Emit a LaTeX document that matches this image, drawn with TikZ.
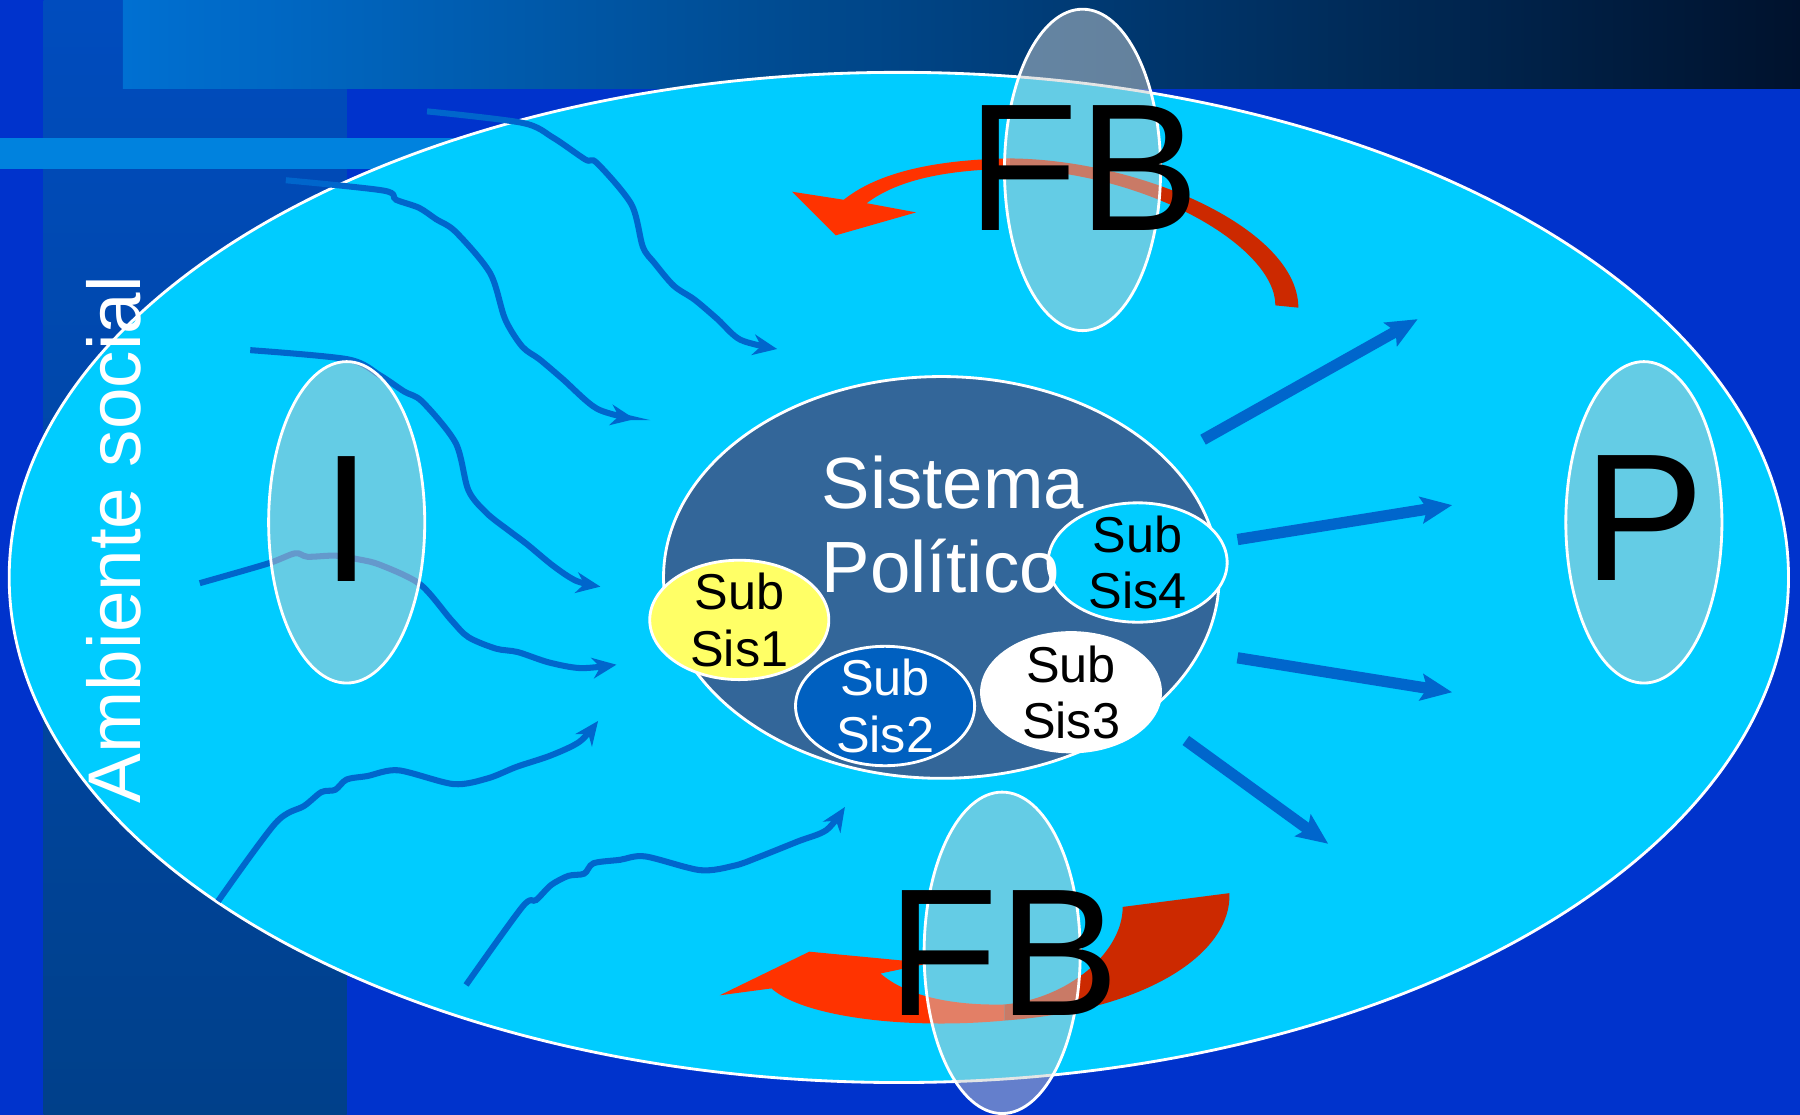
\documentclass[tikz,border=0pt]{standalone}
\usepackage{fontspec}
\setmainfont{Liberation Sans}
\usetikzlibrary{shapes.geometric,arrows.meta}
\definecolor{AzulFondo}{RGB}{0, 51, 204}
\definecolor{FranjaArriba}{RGB}{0, 76, 190}
\definecolor{FranjaAbajo}{RGB}{0, 64, 138}
\definecolor{BarraIzq}{RGB}{0, 112, 210}
\definecolor{BarraDer}{RGB}{0, 18, 45}
\definecolor{Raya}{RGB}{0, 130, 222}
\definecolor{Cian}{RGB}{0, 204, 255}
\definecolor{AzulSistema}{RGB}{51, 102, 153}
\definecolor{Amarillo}{RGB}{255, 255, 102}
\definecolor{AzulSub}{RGB}{0, 96, 192}
\definecolor{AzulFlecha}{RGB}{0, 102, 204}
\definecolor{RojoVivo}{RGB}{255, 51, 0}
\definecolor{RojoOscuro}{RGB}{204, 41, 0}
\definecolor{Velo}{RGB}{200, 204, 204}

\begin{document}
\begin{tikzpicture}[x=0.1mm, y=-0.1mm,
    elipse/.style={ellipse, draw=white, line width=0.7pt, inner sep=0pt},
    velo/.style={elipse, fill=Velo, fill opacity=0.5, minimum width=13.6mm, minimum height=28mm},
    letra/.style={font=\fontsize{45}{45}\selectfont, inner sep=0pt},
    subsis/.style={elipse, minimum width=15.6mm, minimum height=10.4mm},
    subtexto/.style={font=\fontsize{12.5}{14}\selectfont, align=center, inner sep=0pt},
    onda/.style={AzulFlecha, line width=1.5pt, -{Stealth[length=2.1mm, width=1.8mm]}},
    salida/.style={AzulFlecha, line width=2.8pt, -{Stealth[length=2.7mm, width=2.3mm, inset=0.5mm]}}]
    \useasboundingbox (0,0) rectangle (1568,971);
    %Fondo
    \fill[AzulFondo] (0,0) rectangle (1568,971);
    \shade[top color=FranjaArriba, bottom color=FranjaAbajo] (38,0) rectangle (302,971);
    \shade[left color=BarraIzq, right color=BarraDer] (107,0) rectangle (1568,77);
    \fill[Raya] (0,120) rectangle (430,147);
    %Ambiente
    \node[elipse, fill=Cian, minimum width=155mm, minimum height=88mm] (A) at (783,503) {};
    \node[text=white, rotate=90, anchor=base, font=\fontsize{18.5}{20}\selectfont, inner sep=0pt] (AS) at (122,470) {Ambiente social};
    %Entradas
    \coordinate (O1) at (372,97);   \coordinate (F1) at (677,304);
    \coordinate (O2) at (249,157);  \coordinate (F2) at (553,365);
    \coordinate (O3) at (218,305);  \coordinate (F3) at (523,511);
    \coordinate (O4) at (174,508);  \coordinate (F4) at (537,579);
    \coordinate (O5) at (190,785);  \coordinate (F5) at (521,628);
    \coordinate (O6) at (406,858);  \coordinate (F6) at (736,703);
    \draw[onda] plot[smooth, tension=0.5] coordinates {(O1) (455,107) (482,120) (510,139) (520,142) (550,178) (560,215) (570,229) (587,249) (605,261) (625,278) (645,296) (F1)};
    \draw[onda] plot[smooth, tension=0.5] coordinates {(O2) (334,166) (345,174) (365,181) (380,191) (397,202) (427,238) (440,278) (455,302) (470,313) (490,330) (520,356) (F2)};
    \draw[onda] plot[smooth, tension=0.5] coordinates {(O3) (303,313) (331,327) (352,341) (368,350) (397,386) (408,427) (424,447) (443,462) (459,474) (482,493) (502,506) (F3)};
    \draw[onda] plot[smooth, tension=0.5] coordinates {(O4) (233,491) (257,482) (268,485) (292,484) (311,487) (331,492) (366,509) (393,540) (408,555) (432,565) (451,568) (478,577) (506,582) (F4)};
    \draw[onda] plot[smooth, tension=0.5] coordinates {(O5) (240,717) (265,702) (280,690) (292,688) (302,679) (320,676) (347,671) (395,683) (425,678) (450,668) (480,658) (505,646) (F5)};
    \draw[onda] plot[smooth, tension=0.5] coordinates {(O6) (455,790) (467,784) (480,771) (495,763) (509,761) (517,752) (540,749) (562,746) (610,758) (640,754) (660,747) (695,733) (720,723) (F6)};
    %Salidas
    \coordinate (E1) at (1048,383);  \coordinate (G1) at (1235,278);
    \coordinate (E2) at (1078,470);  \coordinate (G2) at (1265,440);
    \coordinate (E3) at (1078,573);  \coordinate (G3) at (1265,603);
    \coordinate (E4) at (1033,645);  \coordinate (G4) at (1157,735);
    \draw[salida] (E1) -- (G1);
    \draw[salida] (E2) -- (G2);
    \draw[salida] (E3) -- (G3);
    \draw[salida] (E4) -- (G4);
    %Retroalimentacion
    \fill[RojoVivo] (690,167) -- (735,174) .. controls (765,150) and (815,139) .. (880,138) -- (880,147) .. controls (820,148) and (780,158) .. (755,177) -- (798,185) -- (728,205) -- cycle;
    \fill[RojoOscuro] (880,138) .. controls (995,139) and (1131,200) .. (1131,268) -- (1111,266) .. controls (1111,215) and (1000,150) .. (880,147) -- cycle;
    \fill[RojoVivo] (627,867) -- (705,829) -- (810,839) -- (767,848) .. controls (790,868) and (830,876) .. (875,875) -- (875,889) .. controls (790,897) and (700,886) .. (672,861) -- cycle;
    \fill[RojoOscuro] (875,875) .. controls (930,870) and (978,830) .. (978,790) -- (1071,778) .. controls (1073,830) and (1000,880) .. (875,889) -- cycle;
    \node[velo] (B) at (943,148) {};
    \node[velo] (C) at (873,830) {};
    \node[velo] (D) at (302,455) {};
    \node[velo] (E) at (1432,455) {};
    \node[letra] (FB1) at (944,146) {FB};
    \node[letra] (FB2) at (874,830) {FB};
    \node[letra] (I) at (302,452) {I};
    \node[letra] (P) at (1432,451) {P};
    %Sistema
    \node[elipse, fill=AzulSistema, minimum width=48.4mm, minimum height=35mm] (S) at (820,503) {};
    \node[subsis, fill=Amarillo, label={[subtexto]center:Sub\\Sis1}] (S1) at (644,540) {};
    \node[subsis, fill=AzulSub, label={[subtexto, text=white]center:Sub\\Sis2}] (S2) at (771,615) {};
    \node[subsis, fill=white, label={[subtexto]center:Sub\\Sis3}] (S3) at (933,603) {};
    \node[subsis, fill=Cian, label={[subtexto]center:Sub\\Sis4}] (S4) at (991,490) {};
    \node[anchor=west, align=left, text=white, font=\fontsize{18}{21}\selectfont, inner sep=0pt] (ST) at (715,457) {Sistema\\Político};
\end{tikzpicture}
\end{document}
